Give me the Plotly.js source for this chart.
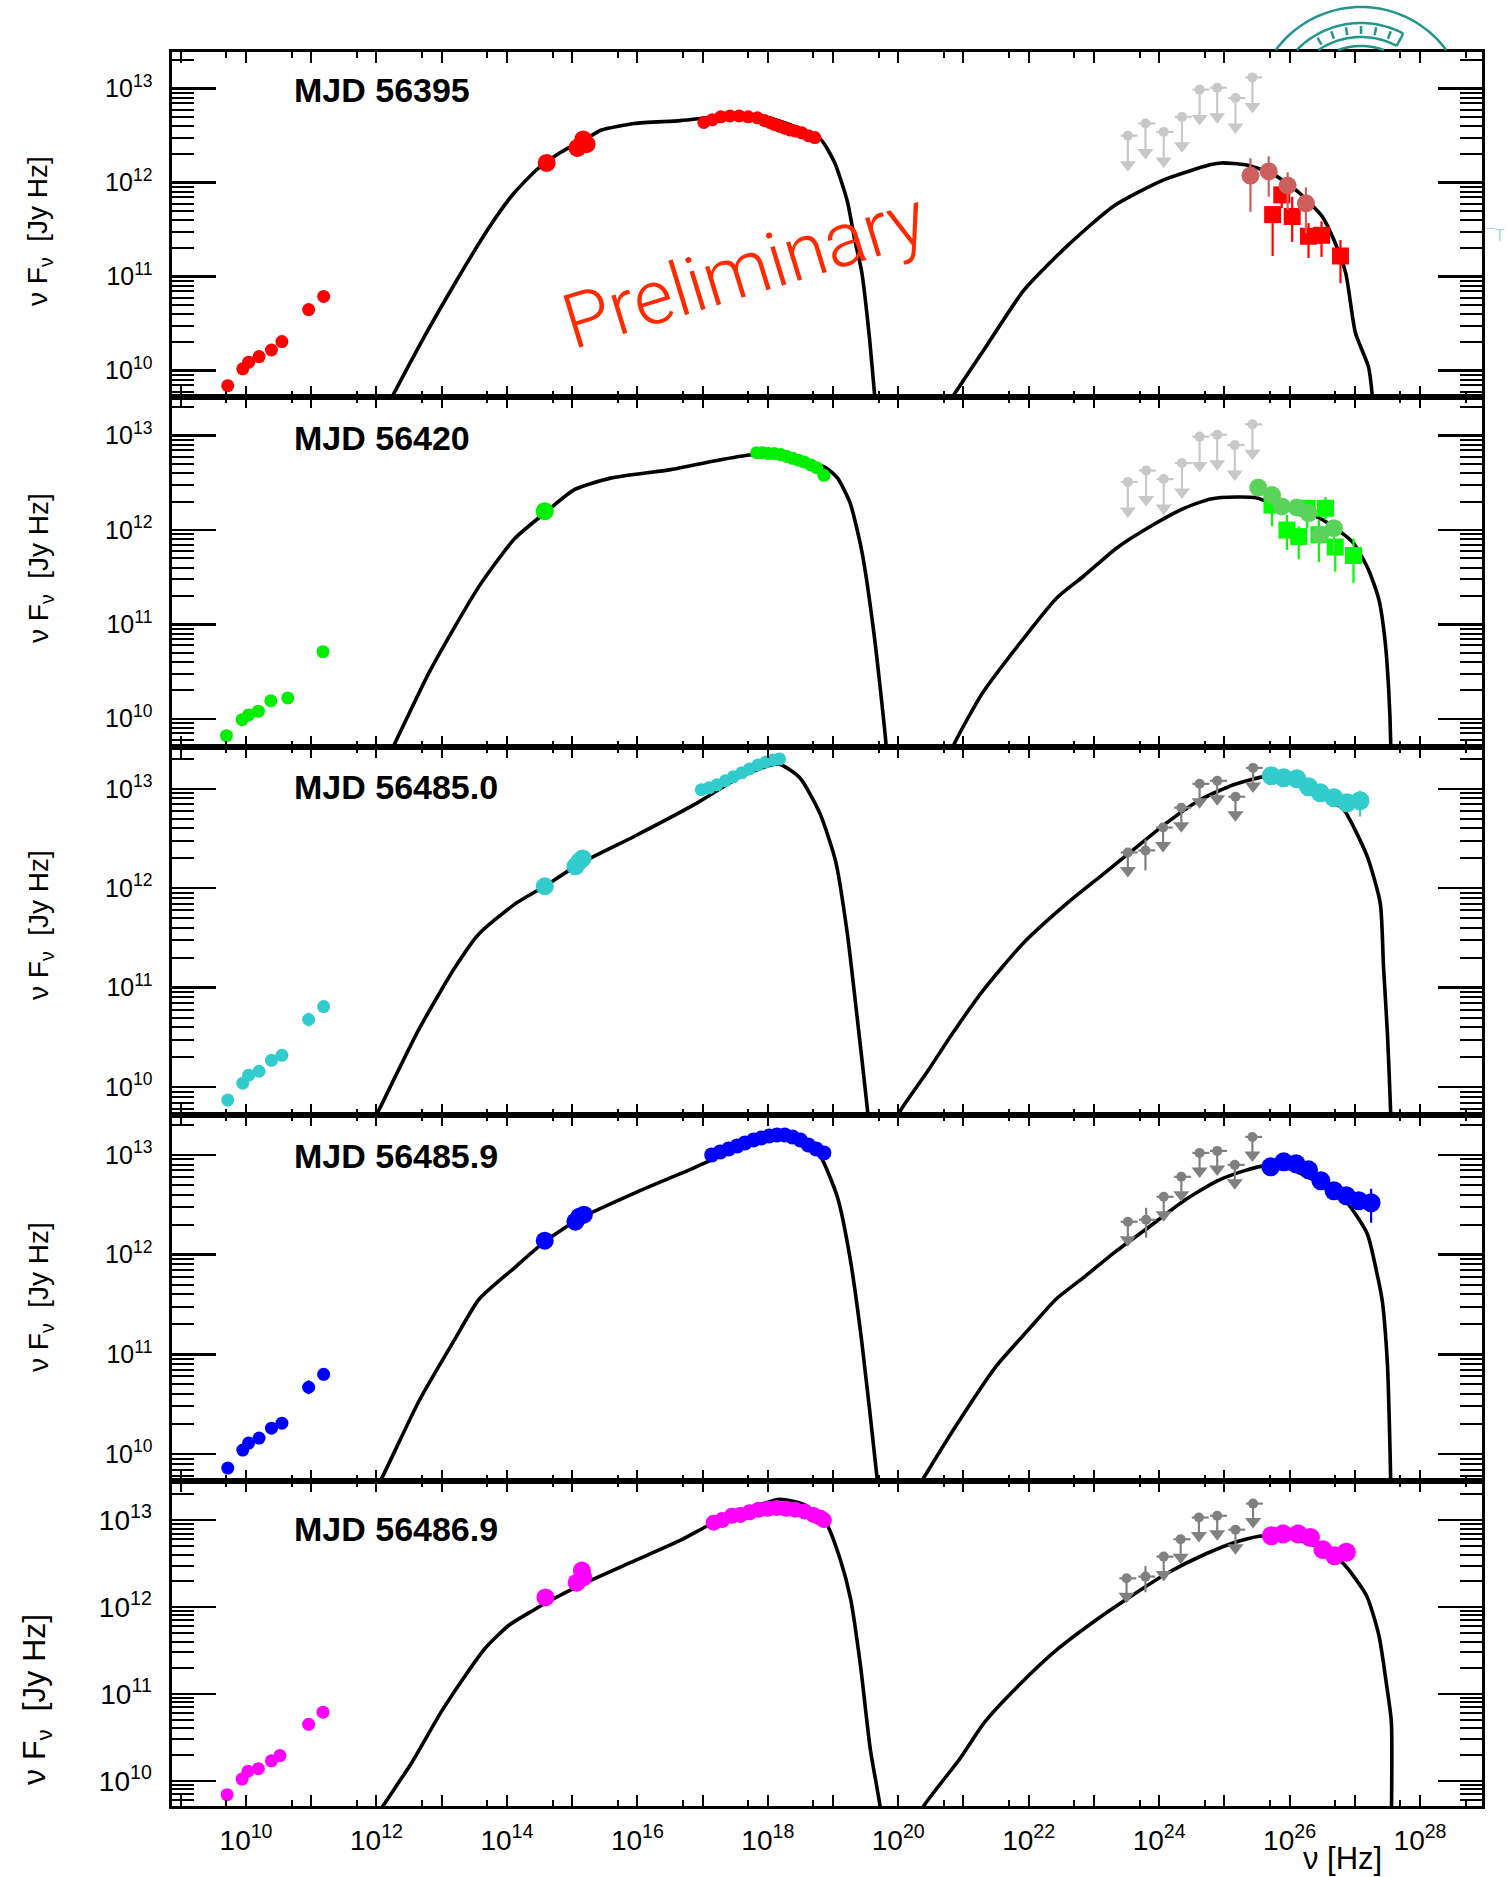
<!DOCTYPE html>
<html><head><meta charset="utf-8">
<script src="https://cdn.plot.ly/plotly-3.0.1.min.js"></script>
<style>html,body{margin:0;padding:0;background:#fff}#chart{width:1507px;height:1877px}</style>
</head><body><div id="chart"></div>
<script>
// ---------- DATA (log10 of nu [Hz] and log10 of nuFnu [Jy Hz]) ----------
const panelLabels = ['MJD 56395', 'MJD 56420', 'MJD 56485.0', 'MJD 56485.9', 'MJD 56486.9'];
const xLabelExps = [10, 12, 14, 16, 18, 20, 22, 24, 26, 28];
const xOddExps = [9, 11, 13, 15, 17, 19, 21, 23, 25, 27];
const yTickExps = [10, 11, 12, 13];

// Panel 1 - MJD 56395
const p1RadioNu = [9.72, 9.95, 10.04, 10.20, 10.39, 10.55, 10.96, 11.19];
const p1RadioF  = [9.84, 10.02, 10.09, 10.15, 10.22, 10.31, 10.65, 10.79];
const p1RadioErr = [0, 0, 0, 0, 0, 0, 0, 0];
const p1OptNu = [14.61, 15.08, 15.17, 15.22];
const p1OptF  = [12.21, 12.37, 12.46, 12.41];
const p1XrayNu = [17.02,17.15,17.28,17.42,17.56,17.70,17.84,17.95,18.03,18.10,18.18,18.26,18.34,18.42,18.52,18.62,18.72];
const p1XrayF  = [12.64,12.67,12.70,12.71,12.71,12.70,12.69,12.66,12.64,12.62,12.60,12.58,12.56,12.55,12.53,12.50,12.48];
const p1TevCNu = [25.40, 25.68, 25.97, 26.25];
const p1TevCF  = [12.075, 12.12, 11.97, 11.78];
const p1TevCHi = [12.26, 12.28, 12.11, 11.95];
const p1TevCLo = [11.69, 11.85, 11.71, 11.46];
const p1TevSNu = [25.74, 25.88, 26.04, 26.29, 26.49, 26.78];
const p1TevSF  = [11.66, 11.87, 11.64, 11.43, 11.44, 11.22];
const p1TevSHi = [11.75, 11.96, 11.85, 11.57, 11.59, 11.39];
const p1TevSLo = [11.22, 11.73, 11.37, 11.20, 11.21, 10.93];
const p1UlNu = [23.52, 23.79, 24.07, 24.35, 24.62, 24.89, 25.17, 25.43];
const p1UlF  = [12.50, 12.63, 12.54, 12.70, 12.99, 13.01, 12.90, 13.12];
const p1SyncNu = [12.07,12.23,12.70,13.17,13.64,13.90,14.11,14.46,14.82,15.29,15.45,15.95,16.66,17.20,17.60,18.00,18.40,18.80,19.02,19.22,19.33,19.44,19.56,19.64,19.67];
const p1SyncF  = [9.50,9.71,10.32,10.89,11.43,11.70,11.89,12.14,12.32,12.50,12.56,12.63,12.66,12.70,12.72,12.69,12.60,12.47,12.22,11.80,11.40,11.05,10.34,9.72,9.50];
const p1IcNu = [20.62,20.83,21.34,21.93,22.58,23.30,24.07,24.78,24.96,25.32,25.73,26.15,26.50,26.68,26.86,27.01,27.21,27.27,27.29];
const p1IcF  = [9.50,9.72,10.25,10.86,11.32,11.75,12.03,12.19,12.21,12.19,12.10,11.89,11.64,11.39,11.04,10.40,10.04,9.72,9.50];

// Panel 2 - MJD 56420
const p2RadioNu = [9.70, 9.94, 10.04, 10.19, 10.38, 10.64, 11.18];
const p2RadioF  = [9.82, 9.99, 10.04, 10.08, 10.19, 10.22, 10.71];
const p2RadioErr = [0, 0, 0, 0, 0, 0, 0];
const p2OptNu = [14.58];
const p2OptF  = [12.20];
const p2XrayNu = [17.83,17.92,18.01,18.10,18.20,18.29,18.38,18.47,18.56,18.66,18.75,18.86];
const p2XrayF  = [12.82,12.82,12.81,12.81,12.80,12.78,12.76,12.74,12.72,12.69,12.66,12.58];
const p2TevCNu = [25.52, 25.73, 25.88, 26.11, 26.29, 26.47, 26.68];
const p2TevCF  = [12.45, 12.37, 12.25, 12.24, 12.18, 11.95, 12.02];
const p2TevCHi = [12.49, 12.41, 12.29, 12.28, 12.22, 12.00, 12.07];
const p2TevCLo = [12.40, 12.32, 12.20, 12.19, 12.12, 11.88, 11.77];
const p2TevSNu = [25.73, 25.96, 26.14, 26.27, 26.45, 26.55, 26.70, 26.98];
const p2TevSF  = [12.265, 12.00, 11.93, 12.23, 11.95, 12.23, 11.82, 11.73];
const p2TevSHi = [12.35, 12.16, 12.04, 12.32, 12.11, 12.35, 11.91, 11.91];
const p2TevSLo = [12.04, 11.79, 11.69, 12.02, 11.66, 12.11, 11.56, 11.44];
const p2UlNu = [23.52, 23.80, 24.07, 24.35, 24.62, 24.89, 25.16, 25.43];
const p2UlF  = [12.51, 12.63, 12.54, 12.71, 12.99, 13.01, 12.90, 13.12];
const p2SyncNu = [12.12,12.29,12.83,13.57,14.12,14.58,15.04,15.59,16.51,17.24,17.79,18.34,18.89,19.07,19.26,19.44,19.63,19.81,19.83];
const p2SyncF  = [9.50,9.75,10.52,11.40,11.91,12.18,12.43,12.55,12.64,12.74,12.80,12.78,12.66,12.55,12.29,11.78,10.89,9.75,9.50];
const p2IcNu = [20.72,20.87,21.28,21.83,22.43,22.84,23.35,23.87,24.38,24.79,25.19,25.50,25.91,26.42,26.78,26.98,27.21,27.37,27.46,27.52,27.55,27.55];
const p2IcF  = [9.50,9.75,10.26,10.77,11.28,11.51,11.81,12.04,12.23,12.33,12.35,12.34,12.23,12.14,11.98,11.86,11.58,11.26,10.85,10.30,9.75,9.50];

// Panel 3 - MJD 56485.0
const p3RadioNu = [9.72, 9.95, 10.04, 10.20, 10.39, 10.55, 10.96, 11.19];
const p3RadioF  = [9.87, 10.04, 10.12, 10.16, 10.27, 10.32, 10.68, 10.81];
const p3RadioErr = [0, 0, 0, 0, 0, 0, 0.07, 0];
const p3OptNu = [14.58, 15.05, 15.11, 15.16];
const p3OptF  = [12.02, 12.22, 12.27, 12.30];
const p3XrayNu = [16.98,17.10,17.22,17.35,17.47,17.60,17.72,17.85,17.97,18.08,18.18];
const p3XrayF  = [12.99,13.01,13.04,13.08,13.12,13.16,13.20,13.24,13.27,13.29,13.30];
const p3TevNu = [25.72, 25.91, 26.11, 26.29, 26.47, 26.68, 26.88, 27.08];
const p3TevF  = [13.13, 13.11, 13.10, 13.02, 12.96, 12.91, 12.86, 12.88];
const p3TevHi = [13.15, 13.13, 13.12, 13.04, 12.98, 12.93, 12.88, 12.98];
const p3TevLo = [13.11, 13.09, 13.08, 13.00, 12.94, 12.89, 12.84, 12.72];
const p3UlNu = [23.52, 24.06, 24.34, 24.62, 24.89, 25.17, 25.44];
const p3UlF  = [12.36, 12.61, 12.81, 13.05, 13.08, 12.92, 13.21];
const p3LatNu = [23.79];
const p3LatF  = [12.38];
const p3LatHi = [12.49];
const p3LatLo = [12.18];
const p3SyncNu = [11.83,12.03,12.65,13.20,13.57,14.12,14.58,15.10,15.95,16.87,17.61,18.16,18.49,18.80,19.04,19.22,19.37,19.53,19.56];
const p3SyncF  = [9.50,9.76,10.58,11.20,11.54,11.84,12.02,12.24,12.52,12.84,13.13,13.25,13.11,12.75,12.27,11.54,10.70,9.76,9.50];
const p3IcNu = [19.85,20.03,20.45,20.80,21.31,21.92,22.59,23.10,23.61,24.12,24.63,25.14,25.60,25.90,26.30,26.60,26.83,27.19,27.39,27.44,27.50,27.55,27.56];
const p3IcF  = [9.50,9.76,10.16,10.51,10.98,11.45,11.85,12.12,12.39,12.66,12.89,13.04,13.12,13.11,13.00,12.90,12.79,12.32,11.85,11.21,10.54,9.74,9.50];

// Panel 4 - MJD 56485.9
const p4RadioNu = [9.72, 9.95, 10.04, 10.20, 10.39, 10.55, 10.96, 11.19];
const p4RadioF  = [9.86, 10.04, 10.11, 10.16, 10.26, 10.31, 10.67, 10.80];
const p4RadioErr = [0, 0, 0, 0, 0, 0, 0.07, 0];
const p4OptNu = [14.58, 15.05, 15.11, 15.18];
const p4OptF  = [12.14, 12.33, 12.38, 12.40];
const p4XrayNu = [17.14,17.27,17.40,17.53,17.65,17.78,17.90,18.02,18.14,18.26,18.38,18.50,18.62,18.74,18.86];
const p4XrayF  = [13.00,13.03,13.06,13.09,13.12,13.15,13.17,13.19,13.20,13.20,13.18,13.15,13.10,13.06,13.02];
const p4TevNu = [25.71, 25.91, 26.10, 26.29, 26.48, 26.68, 26.87, 27.06, 27.25];
const p4TevF  = [12.88, 12.93, 12.91, 12.85, 12.74, 12.64, 12.59, 12.54, 12.52];
const p4TevHi = [12.90, 12.95, 12.93, 12.87, 12.76, 12.66, 12.61, 12.56, 12.66];
const p4TevLo = [12.86, 12.91, 12.89, 12.83, 12.72, 12.62, 12.57, 12.52, 12.32];
const p4UlNu = [23.52, 24.07, 24.34, 24.62, 24.89, 25.16, 25.43];
const p4UlF  = [12.33, 12.58, 12.78, 13.02, 13.04, 12.90, 13.18];
const p4LatNu = [23.80];
const p4LatF  = [12.35];
const p4LatHi = [12.47];
const p4LatLo = [12.17];
const p4SyncNu = [11.86,12.06,12.65,13.20,13.57,14.12,14.58,15.11,16.00,16.87,17.24,17.61,18.16,18.53,18.80,19.07,19.26,19.44,19.68,19.71];
const p4SyncF  = [9.50,9.73,10.53,11.15,11.55,11.87,12.13,12.36,12.63,12.87,12.98,13.08,13.20,13.13,12.99,12.57,11.97,11.13,9.73,9.50];
const p4IcNu = [20.15,20.36,20.90,21.50,22.00,22.43,22.84,23.35,23.87,24.38,24.89,25.30,25.60,26.00,26.50,26.88,27.19,27.34,27.42,27.50,27.53,27.55,27.55];
const p4IcF  = [9.50,9.73,10.30,10.88,11.25,11.56,11.77,12.04,12.29,12.54,12.74,12.84,12.89,12.86,12.70,12.52,12.21,11.81,11.54,10.90,10.30,9.73,9.50];

// Panel 5 - MJD 56486.9
const p5RadioNu = [9.71, 9.94, 10.03, 10.19, 10.39, 10.52, 10.96, 11.18];
const p5RadioF  = [9.84, 10.02, 10.11, 10.14, 10.23, 10.29, 10.65, 10.79];
const p5RadioErr = [0, 0, 0, 0, 0, 0, 0.07, 0];
const p5OptNu = [14.59, 15.07, 15.15, 15.17];
const p5OptF  = [12.11, 12.28, 12.42, 12.34];
const p5XrayNu = [17.17,17.30,17.45,17.58,17.72,17.86,18.00,18.14,18.28,18.42,18.56,18.70,18.80,18.86];
const p5XrayF  = [12.97,13.00,13.05,13.06,13.09,13.12,13.13,13.14,13.13,13.12,13.10,13.06,13.03,13.00];
const p5TevNu = [25.72, 25.90, 26.13, 26.32, 26.51, 26.69, 26.87];
const p5TevF  = [12.82, 12.84, 12.84, 12.80, 12.66, 12.59, 12.63];
const p5TevHi = [12.84, 12.86, 12.86, 12.82, 12.68, 12.61, 12.65];
const p5TevLo = [12.80, 12.82, 12.82, 12.78, 12.64, 12.57, 12.61];
const p5UlNu = [23.50, 24.07, 24.33, 24.61, 24.89, 25.17, 25.44];
const p5UlF  = [12.33, 12.58, 12.78, 13.03, 13.05, 12.89, 13.19];
const p5LatNu = [23.79];
const p5LatF  = [12.35];
const p5LatHi = [12.47];
const p5LatLo = [12.17];
const p5SyncNu = [11.93,12.10,12.55,12.99,13.36,13.66,14.03,14.40,14.63,15.15,15.89,16.64,17.12,17.60,18.18,18.55,18.89,19.11,19.27,19.42,19.57,19.72,19.74];
const p5SyncF  = [9.50,9.71,10.22,10.79,11.21,11.52,11.79,11.96,12.06,12.26,12.51,12.76,12.95,13.10,13.24,13.18,12.97,12.55,12.09,11.33,10.37,9.71,9.50];
const p5IcNu = [20.24,20.39,20.95,21.33,21.85,22.45,23.05,23.58,24.10,24.71,25.23,25.61,26.00,26.40,26.81,27.18,27.37,27.48,27.56,27.56];
const p5IcF  = [9.50,9.71,10.26,10.68,11.10,11.52,11.86,12.13,12.38,12.61,12.76,12.82,12.80,12.70,12.51,12.13,11.67,11.14,10.68,9.50];

// ---------- LAYOUT GEOMETRY / STYLE ----------
const W = 1507, H = 1877;
const FONT = 'Liberation Sans, Arial, Helvetica, sans-serif';
const xDom = [172 / W, 1482 / W];
const yPix = [[52, 397], [397, 747], [747, 1115], [1115, 1481], [1481, 1806]];
const yRanges = [[9.72, 13.39], [9.70, 13.41], [9.72, 13.42], [9.73, 13.40], [9.71, 13.45]];
const xRange = [8.865, 28.95];

const P = v => Math.pow(10, v);
const panels = [
  {radioNu: p1RadioNu, radioF: p1RadioF, radioErr: p1RadioErr, optNu: p1OptNu, optF: p1OptF, xNu: p1XrayNu, xF: p1XrayF,
   tevC: [p1TevCNu, p1TevCF, p1TevCHi, p1TevCLo], tevS: [p1TevSNu, p1TevSF, p1TevSHi, p1TevSLo],
   ul: [p1UlNu, p1UlF], lat: null, sync: [p1SyncNu, p1SyncF], ic: [p1IcNu, p1IcF],
   col: '#ff0000', tevCcol: '#cd5f5f', tevScol: '#ff0000', ulCol: '#c8c8c8', arrowLen: 36, xs: 13, ts: 18},
  {radioNu: p2RadioNu, radioF: p2RadioF, radioErr: p2RadioErr, optNu: p2OptNu, optF: p2OptF, xNu: p2XrayNu, xF: p2XrayF,
   tevC: [p2TevCNu, p2TevCF, p2TevCHi, p2TevCLo], tevS: [p2TevSNu, p2TevSF, p2TevSHi, p2TevSLo],
   ul: [p2UlNu, p2UlF], lat: null, sync: [p2SyncNu, p2SyncF], ic: [p2IcNu, p2IcF],
   col: '#00ee00', tevCcol: '#5ad35a', tevScol: '#00ff00', ulCol: '#c8c8c8', arrowLen: 36, xs: 13, ts: 18},
  {radioNu: p3RadioNu, radioF: p3RadioF, radioErr: p3RadioErr, optNu: p3OptNu, optF: p3OptF, xNu: p3XrayNu, xF: p3XrayF,
   tevC: [p3TevNu, p3TevF, p3TevHi, p3TevLo], tevS: null,
   ul: [p3UlNu, p3UlF], lat: [p3LatNu, p3LatF, p3LatHi, p3LatLo], sync: [p3SyncNu, p3SyncF], ic: [p3IcNu, p3IcF],
   col: '#33cccc', tevCcol: '#33cccc', ulCol: '#808080', arrowLen: 25, xs: 13, ts: 19},
  {radioNu: p4RadioNu, radioF: p4RadioF, radioErr: p4RadioErr, optNu: p4OptNu, optF: p4OptF, xNu: p4XrayNu, xF: p4XrayF,
   tevC: [p4TevNu, p4TevF, p4TevHi, p4TevLo], tevS: null,
   ul: [p4UlNu, p4UlF], lat: [p4LatNu, p4LatF, p4LatHi, p4LatLo], sync: [p4SyncNu, p4SyncF], ic: [p4IcNu, p4IcF],
   col: '#0000ff', tevCcol: '#0000ff', ulCol: '#808080', arrowLen: 25, xs: 15, ts: 19},
  {radioNu: p5RadioNu, radioF: p5RadioF, radioErr: p5RadioErr, optNu: p5OptNu, optF: p5OptF, xNu: p5XrayNu, xF: p5XrayF,
   tevC: [p5TevNu, p5TevF, p5TevHi, p5TevLo], tevS: null,
   ul: [p5UlNu, p5UlF], lat: [p5LatNu, p5LatF, p5LatHi, p5LatLo], sync: [p5SyncNu, p5SyncF], ic: [p5IcNu, p5IcF],
   col: '#ff00ff', tevCcol: '#ff00ff', ulCol: '#808080', arrowLen: 25, xs: 16, ts: 19}
];

const traces = [];
panels.forEach((d, i) => {
  const k = i + 1;
  const xa = k === 1 ? 'x' : 'x' + k, ya = k === 1 ? 'y' : 'y' + k;
  const ppd = (yPix[i][1] - yPix[i][0]) / (yRanges[i][1] - yRanges[i][0]);
  const base = {xaxis: xa, yaxis: ya, hoverinfo: 'skip', showlegend: false, cliponaxis: true};
  // model curve (synchrotron + inverse Compton)
  traces.push(Object.assign({}, base, {
    x: d.sync[0].map(P).concat([null], d.ic[0].map(P)),
    y: d.sync[1].map(P).concat([null], d.ic[1].map(P)),
    mode: 'lines', line: {color: '#000', width: 3.6, shape: 'spline', smoothing: 0.6}, connectgaps: false
  }));
  // Fermi-LAT upper limits
  const ulX = d.ul[0], ulY = d.ul[1], L = d.arrowLen;
  const hx = {type: 'data', symmetric: false, color: d.ulCol, thickness: 2.2, width: 0,
              array: ulX.map(v => P(v + 0.15) - P(v)), arrayminus: ulX.map(v => P(v) - P(v - 0.11))};
  traces.push(Object.assign({}, base, {
    x: ulX.map(P), y: ulY.map(P), mode: 'markers',
    marker: {symbol: 'circle', size: 10, color: d.ulCol},
    error_x: hx,
    error_y: {type: 'data', symmetric: false, color: d.ulCol, thickness: 2.2, width: 0,
              array: ulY.map(() => 0), arrayminus: ulY.map(v => P(v) - P(v - (L - 6) / ppd))}
  }));
  traces.push(Object.assign({}, base, {
    x: ulX.map(P), y: ulY.map(v => P(v - (L - 7) / ppd)), mode: 'markers',
    marker: {symbol: 'triangle-down', size: 14, color: d.ulCol}
  }));
  if (d.lat) {
    const lx = d.lat[0];
    traces.push(Object.assign({}, base, {
      x: lx.map(P), y: d.lat[1].map(P), mode: 'markers',
      marker: {symbol: 'circle', size: 10, color: d.ulCol},
      error_x: {type: 'data', symmetric: false, color: d.ulCol, thickness: 2.2, width: 0,
                array: lx.map(v => P(v + 0.15) - P(v)), arrayminus: lx.map(v => P(v) - P(v - 0.11))},
      error_y: {type: 'data', symmetric: false, color: d.ulCol, thickness: 2.2, width: 0,
                array: d.lat[1].map((v, j) => P(d.lat[2][j]) - P(v)),
                arrayminus: d.lat[1].map((v, j) => P(v) - P(d.lat[3][j]))}
    }));
  }
  // radio
  traces.push(Object.assign({}, base, {
    x: d.radioNu.map(P), y: d.radioF.map(P), mode: 'markers',
    marker: {symbol: 'circle', size: 13, color: d.col},
    error_y: {type: 'data', symmetric: false, color: d.col, thickness: 2, width: 0,
              array: d.radioF.map((v, j) => P(v + d.radioErr[j]) - P(v)),
              arrayminus: d.radioF.map((v, j) => P(v) - P(v - d.radioErr[j]))}
  }));
  // optical / UV
  traces.push(Object.assign({}, base, {
    x: d.optNu.map(P), y: d.optF.map(P), mode: 'markers',
    marker: {symbol: 'circle', size: 18, color: d.col}
  }));
  // X-ray
  traces.push(Object.assign({}, base, {
    x: d.xNu.map(P), y: d.xF.map(P), mode: 'markers',
    marker: {symbol: 'circle', size: d.xs, color: d.col}
  }));
  // TeV squares
  if (d.tevS) {
    const s = d.tevS;
    traces.push(Object.assign({}, base, {
      x: s[0].map(P), y: s[1].map(P), mode: 'markers',
      marker: {symbol: 'square', size: 17, color: d.tevScol},
      error_y: {type: 'data', symmetric: false, color: d.tevScol, thickness: 2.2, width: 0,
                array: s[1].map((v, j) => P(s[2][j]) - P(v)),
                arrayminus: s[1].map((v, j) => P(v) - P(s[3][j]))}
    }));
  }
  // TeV circles
  const c = d.tevC;
  traces.push(Object.assign({}, base, {
    x: c[0].map(P), y: c[1].map(P), mode: 'markers',
    marker: {symbol: 'circle', size: d.ts, color: d.tevCcol},
    error_y: {type: 'data', symmetric: false, color: d.tevCcol, thickness: 2.2, width: 0,
              array: c[1].map((v, j) => P(c[2][j]) - P(v)),
              arrayminus: c[1].map((v, j) => P(v) - P(c[3][j]))}
  }));
});
// invisible trace so the odd-decade tick overlay axis of the bottom panel exists
traces.push({x: [], y: [], xaxis: 'x6', yaxis: 'y5', mode: 'markers', showlegend: false, hoverinfo: 'skip'});

// ---------- AXES ----------
const layout = {
  width: W, height: H, margin: {l: 0, r: 0, t: 0, b: 0},
  paper_bgcolor: '#fff', plot_bgcolor: 'rgba(0,0,0,0)',
  showlegend: false, hovermode: false,
  font: {family: FONT, color: '#000'},
  annotations: [], shapes: []
};
const xMinorVals = [];
for (let e = 8; e <= 28; e++) xMinorVals.push(5 * P(e));
const yMinorVals = [];
for (let e = 9; e <= 13; e++) for (let m = 2; m <= 9; m++) yMinorVals.push(m * P(e));
const allDecades = xLabelExps.concat(xOddExps).sort((a, b) => a - b);

for (let i = 0; i < 5; i++) {
  const k = i + 1;
  const xKey = k === 1 ? 'xaxis' : 'xaxis' + k;
  const yKey = k === 1 ? 'yaxis' : 'yaxis' + k;
  const last = k === 5;
  layout[xKey] = {
    type: 'log', domain: xDom, range: xRange, anchor: k === 1 ? 'y' : 'y' + k,
    showgrid: false, zeroline: false, showline: true, linecolor: '#000', linewidth: 2.6, mirror: 'ticks',
    ticks: 'inside', ticklen: 11, tickwidth: 2, tickcolor: '#000',
    tickmode: 'array',
    tickvals: last ? xLabelExps.map(P) : allDecades.map(P),
    ticktext: last ? xLabelExps.map(e => '10<sup>' + e + '</sup>') : allDecades.map(e => '10<sup>' + e + '</sup>'),
    showticklabels: last, tickfont: {family: FONT, size: 28, color: '#000'}, ticklabelstandoff: 8,
    minor: {tickmode: 'array', tickvals: xMinorVals, ticks: 'inside', ticklen: 6, tickwidth: 2, tickcolor: '#000', showgrid: false},
    fixedrange: true
  };
  layout[yKey] = {
    type: 'log', domain: [1 - yPix[i][1] / H, 1 - yPix[i][0] / H], range: yRanges[i], anchor: k === 1 ? 'x' : 'x' + k,
    showgrid: false, zeroline: false, showline: true, linecolor: '#000', linewidth: 2.6, mirror: 'ticks',
    ticks: 'inside', ticklen: 44, tickwidth: 2.4, tickcolor: '#000',
    tickmode: 'array', tickvals: yTickExps.map(P), ticktext: yTickExps.map(e => '10<sup>' + e + '</sup>'),
    tickfont: {family: FONT, size: last ? 28 : 25, color: '#000'}, ticklabelstandoff: 12,
    minor: {tickmode: 'array', tickvals: yMinorVals, ticks: 'inside', ticklen: 22, tickwidth: 2, tickcolor: '#000', showgrid: false},
    fixedrange: true
  };
  // panel label
  const labelY = [90, 438, 787, 1156, 1529][i];
  layout.annotations.push({
    xref: 'paper', yref: 'paper', x: 292 / W, y: 1 - labelY / H, xanchor: 'left', yanchor: 'middle',
    text: '<b>' + panelLabels[i] + '</b>', showarrow: false, font: {family: FONT, size: 34, color: '#000'}
  });
  // y title
  const tY = [231, 568, 925, 1297, 1700][i];
  layout.annotations.push({
    xref: 'paper', yref: 'paper', x: (last ? 36 : 40) / W, y: 1 - tY / H, xanchor: 'center', yanchor: 'middle',
    textangle: -90, text: 'ν F<sub>ν</sub>  [Jy Hz]', showarrow: false,
    font: {family: FONT, size: last ? 32 : 28, color: '#000'}
  });
}
// odd decade ticks of the bottom panel (same length as labelled decades, without labels)
layout.xaxis6 = {
  type: 'log', range: xRange, overlaying: 'x5', anchor: 'y5', side: 'bottom',
  showgrid: false, zeroline: false, showline: false, mirror: 'ticks',
  ticks: 'inside', ticklen: 11, tickwidth: 2, tickcolor: '#000',
  tickmode: 'array', tickvals: xOddExps.map(P), showticklabels: false, fixedrange: true
};
// x title
layout.annotations.push({
  xref: 'paper', yref: 'paper', x: 1342 / W, y: 1 - 1858 / H, xanchor: 'center', yanchor: 'middle',
  text: 'ν [Hz]', showarrow: false, font: {family: FONT, size: 31, color: '#000'}
});
// Preliminary watermark
layout.annotations.push({
  xref: 'paper', yref: 'paper', x: 744 / W, y: 1 - 270 / H, xanchor: 'center', yanchor: 'middle',
  text: 'Preliminary', textangle: -17, showarrow: false,
  font: {family: 'Roboto, Liberation Sans, sans-serif', weight: 300, size: 76, color: '#ff2a00'}
});
// small logo fragment at right edge
layout.annotations.push({
  xref: 'paper', yref: 'paper', x: 1507 / W, y: 1 - 235 / H, xanchor: 'right', yanchor: 'middle',
  text: '\u00afT', showarrow: false, font: {family: FONT, size: 16, color: '#a8d8d2'}
});

// logo arcs above the top frame (decoration)
const LC = {x: 1361, y: 113}, yCut = 50, teal = '#23968c';
function arc(r, a0, a1) {
  const lim = Math.acos(Math.min(1, (LC.y - yCut) / r)) * 180 / Math.PI;
  const s = Math.max(a0, -lim), e = Math.min(a1, lim);
  let p = '';
  for (let j = 0; j <= 40; j++) {
    const a = (s + (e - s) * j / 40) * Math.PI / 180;
    const px = LC.x + r * Math.sin(a), py = LC.y - r * Math.cos(a);
    p += (j ? ' L' : 'M') + (px / W).toFixed(5) + ',' + (1 - py / H).toFixed(5);
  }
  return p;
}
[[106, -90, 90], [90, -90, 28], [76, -90, 28], [67, -90, 90]].forEach(a => {
  layout.shapes.push({type: 'path', xref: 'paper', yref: 'paper', path: arc(a[0], a[1], a[2]), line: {color: teal, width: 2.5}});
});
[-30, -20, -10, 0, 10, 20, 28].forEach(g => {
  const a = g * Math.PI / 180;
  const r0 = g === 28 ? 76 : 79, r1 = g === 28 ? 90 : 87;
  layout.shapes.push({type: 'line', xref: 'paper', yref: 'paper',
    x0: (LC.x + r0 * Math.sin(a)) / W, y0: 1 - (LC.y - r0 * Math.cos(a)) / H,
    x1: (LC.x + r1 * Math.sin(a)) / W, y1: 1 - (LC.y - r1 * Math.cos(a)) / H,
    line: {color: teal, width: 2.5}});
});

Plotly.newPlot('chart', traces, layout, {displayModeBar: false, staticPlot: true});
</script>
</body></html>
